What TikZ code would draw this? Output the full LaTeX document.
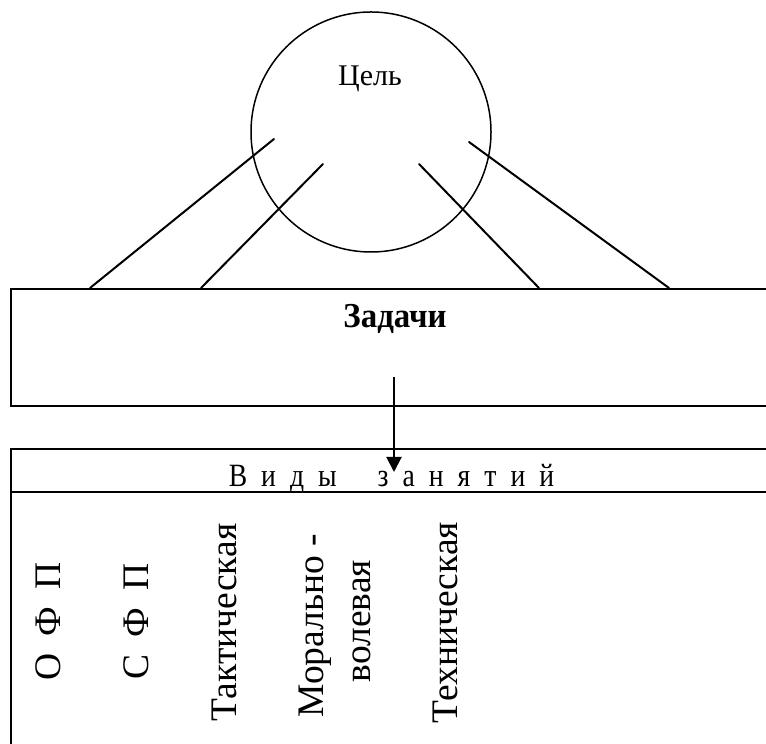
\documentclass[tikz,border=0pt]{standalone}
\usepackage{fontspec}
\setmainfont{Liberation Serif}
\usepackage{graphicx}
\usetikzlibrary{arrows.meta}
\tikzset{
  ln/.style={line width=0.8pt, line cap=round},
  boxline/.style={line width=0.8pt},
  vtext/.style={rotate=90, inner sep=0pt, anchor=base, font=\fontsize{15}{18}\selectfont},
}
\newcommand{\lgap}{\hspace{6.6pt}}
\begin{document}
\begin{tikzpicture}[x=0.4pt,y=-0.4pt]
\useasboundingbox (0,0) rectangle (766,744);
\clip (0,0) rectangle (766,744);
% goal circle
\node[circle, draw, line width=0.6pt, minimum size=96pt, inner sep=0pt] (goal) at (371,132) {};
\node[font=\fontsize{12}{14}\selectfont, anchor=base, inner sep=0pt] (goaltext) at (370,86) {Цель};
% tasks box
\node[draw, boxline, anchor=north west, minimum width=340pt, minimum height=46.8pt, inner sep=0pt] (tasks) at (10,288) {};
\node[font=\fontsize{14}{16}\selectfont\bfseries, anchor=base, inner sep=0pt] (taskstext) at (395,328) {\scalebox{0.94}[1]{Задачи}};
% connectors from goal to tasks
\coordinate (g1) at (274,139);
\coordinate (g2) at (323,164);
\coordinate (g3) at (419,164);
\coordinate (g4) at (469,142);
\coordinate (t1) at (90,288);
\coordinate (t2) at (201,288);
\coordinate (t3) at (539,288);
\coordinate (t4) at (669,288);
\draw[ln] (g1) -- (t1);
\draw[ln] (g2) -- (t2);
\draw[ln] (g3) -- (t3);
\draw[ln] (g4) -- (t4);
% kinds box
\node[draw, boxline, anchor=north west, minimum width=340pt, minimum height=160pt, inner sep=0pt] (kinds) at (10,448) {};
\coordinate (hl) at (10,492);
\coordinate (hr) at (800,492);
\draw[boxline] (hl) -- (hr);
\node[font=\fontsize{13}{15}\selectfont, anchor=base, inner sep=0pt] (kindstext) at (391.5,487) {\scalebox{0.85}[1]{В\lgap и\lgap д\lgap ы\hspace{19.3pt}з\lgap а\lgap н\lgap я\lgap т\lgap и\lgap й}};
% arrow
\coordinate (arrS) at (394,377);
\coordinate (arrE) at (394,472);
\draw[line width=0.8pt, -{Triangle[length=6pt,width=6pt]}] (arrS) -- (arrE);
% vertical labels
\node[vtext] (ofp) at (60,621.5) {О\hspace{7pt}Ф\hspace{7pt}П};
\node[vtext] (sfp) at (148,621.5) {С\hspace{7pt}Ф\hspace{7pt}П};
\node[vtext] (takt) at (236,622.5) {Тактическая};
\node[vtext] (moral) at (323,625.5) {Морально -};
\node[vtext] (volev) at (370,621) {волевая};
\node[vtext] (tech) at (457,622.5) {Техническая};
\end{tikzpicture}
\end{document}
